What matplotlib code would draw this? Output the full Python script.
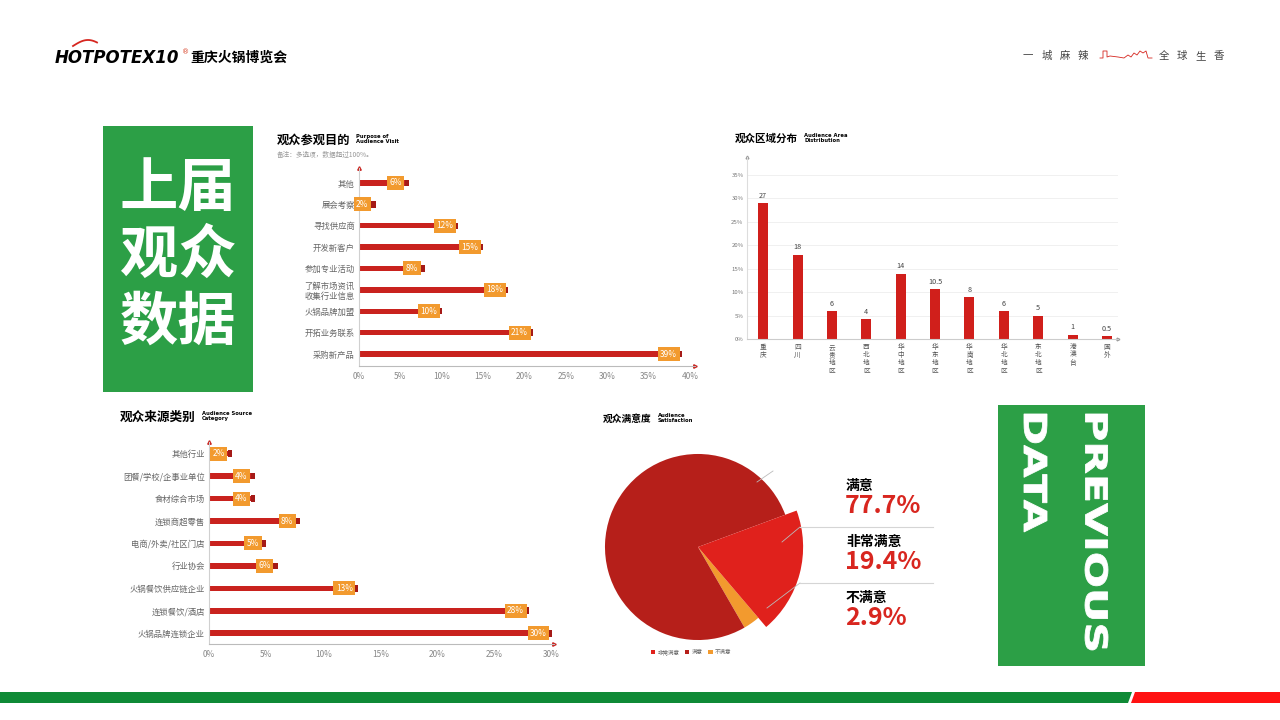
import matplotlib
matplotlib.use('Agg')
import matplotlib.pyplot as plt
import numpy as np
from matplotlib.font_manager import FontProperties
from matplotlib.patches import PathPatch, Polygon, Rectangle
from matplotlib.textpath import TextPath
from matplotlib.transforms import Affine2D

plt.rcParams['font.family'] = ['Noto Sans CJK SC', 'DejaVu Sans']
plt.rcParams['axes.unicode_minus'] = False

W, H = 1280, 720
RED = '#c9221e'
DARK_RED = '#a51a17'
BRIGHT_RED = '#e0211c'
PIE_RED = '#b61f1a'
ORANGE = '#f29a2e'
GREEN = '#2c9f46'
TICK_GRAY = '#777777'

# data
purpose_labels = ['采购新产品', '开拓业务联系', '火锅品牌加盟', '了解市场资讯\n收集行业信息',
                  '参加专业活动', '开发新客户', '寻找供应商', '展会考察', '其他']
purpose_pct = [39, 21, 10, 18, 8, 15, 12, 2, 6]

area_labels = ['重庆', '四川', '云贵地区', '西北地区', '华中地区', '华东地区',
               '华南地区', '华北地区', '东北地区', '港澳台', '国外']
area_pct = [29, 18, 6, 4.3, 14, 10.7, 9, 6, 5, 1, 0.6]
area_text = ['27', '18', '6', '4', '14', '10.5', '8', '6', '5', '1', '0.5']

source_labels = ['火锅品牌连锁企业', '连锁餐饮/酒店', '火锅餐饮供应链企业', '行业协会',
                 '电商/外卖/社区门店', '连锁商超零售', '食材综合市场', '团餐/学校/企事业单位', '其他行业']
source_pct = [30, 28, 13, 6, 5, 8, 4, 4, 2]

satisfaction_labels = ['不满意', '非常满意', '满意']
satisfaction_pct = [2.9, 19.4, 77.7]

fig = plt.figure(figsize=(12.8, 7.2), dpi=100)


def rect(x0, y0, x1, y1):
    # pixel box (y down) -> figure fraction
    return [x0 / W, 1 - y1 / H, (x1 - x0) / W, (y1 - y0) / H]


def pixel_axes(zorder):
    a = fig.add_axes([0, 0, 1, 1], zorder=zorder)
    a.set_xlim(0, W)
    a.set_ylim(H, 0)
    a.axis('off')
    a.patch.set_alpha(0)
    return a


def chart_title(ax, x, y, cn, en, size):
    ax.text(x, y, cn, fontsize=size, fontweight='bold', va='center', ha='left')
    w = len(cn) * size * 1.389 + 6
    ax.text(x + w, y - 1, en, fontsize=3.8, fontweight='bold', va='center', ha='left',
            family='DejaVu Sans', linespacing=0.95)


def vertical_word(ax, s, x0, y0, x1, y1):
    tp = TextPath((0, 0), s, size=100, prop=FontProperties(family='DejaVu Sans', weight='bold'))
    bb = tp.get_extents()
    sx = (x1 - x0) / bb.height
    sy = (y1 - y0) / bb.width
    tr = Affine2D(np.array([[0, sx, x0 - bb.y0 * sx], [sy, 0, y0 - bb.x0 * sy], [0, 0, 1]]))
    ax.add_patch(PathPatch(tr.transform_path(tp), fc='white', ec='white', lw=0.6, zorder=3))


def hbar_chart(box, labels, values, xlim, ylim, ticks, cap):
    ax = fig.add_axes(rect(*box))
    y = np.arange(len(values))
    vals = np.array(values, dtype=float)
    ax.barh(y, vals, height=0.25, color=RED, zorder=2)
    ax.barh(y, cap, left=vals - cap, height=0.3, color=DARK_RED, zorder=2)
    for yi, v in zip(y, values):
        ax.annotate(f'{v}%', (v, yi), xytext=(-9.5, 0), textcoords='offset points',
                    ha='center', va='center', fontsize=6, color='white', zorder=3,
                    bbox=dict(boxstyle='square,pad=0.3', fc=ORANGE, ec='none'))
    ax.set_xlim(*xlim)
    ax.set_ylim(*ylim)
    ax.set_yticks(y, labels, fontsize=6, color='#666666', linespacing=1.1)
    ax.set_xticks(ticks, [f'{t}%' for t in ticks], fontsize=6, color='#888888')
    ax.tick_params(length=0, pad=4)
    ax.tick_params(axis='y', pad=3)
    for s in ['top', 'right']:
        ax.spines[s].set_visible(False)
    ax.spines['left'].set_color('#d0d0d0')
    ax.spines['bottom'].set_color('#bbbbbb')
    ax.spines['left'].set_linewidth(0.8)
    ax.spines['bottom'].set_linewidth(0.8)
    ax.plot(0, 1, marker='^', ms=2.5, color=RED, transform=ax.transAxes, clip_on=False)
    ax.plot(1, 0, marker='>', ms=2.5, color=RED, transform=ax.transAxes, clip_on=False)
    ax.patch.set_alpha(0)
    return ax


bg = pixel_axes(0)

# header
bg.text(55, 58, 'HOTPOTEX10', fontsize=12, fontweight='bold', style='italic',
        family='DejaVu Sans', va='center', ha='left')
bg.text(182, 52, '®', fontsize=5, color='#d63a1f', va='center', ha='left', family='DejaVu Sans')
bg.text(190, 58, '重庆火锅博览会', fontsize=10, fontweight='heavy', va='center', ha='left')
sx = np.linspace(73, 97, 30)
bg.plot(sx, 46 - 6 * np.sin((sx - 73) / 24 * np.pi * 0.8), color='#d6261f', lw=1.3)

for i, ch in enumerate('一城麻辣'):
    bg.text(1028 + i * 18.3, 56, ch, fontsize=7.5, color='#444444', ha='center', va='center')
for i, ch in enumerate('全球生香'):
    bg.text(1164 + i * 18.3, 56, ch, fontsize=7.5, color='#444444', ha='center', va='center')
sky_x = [1100, 1103, 1103, 1107, 1107, 1110, 1118, 1124, 1128, 1131, 1134, 1137, 1140, 1143, 1146, 1148, 1152]
sky_y = [58, 58, 51, 51, 57, 56, 57, 58, 55, 57, 53, 55, 51, 53, 51, 58, 58]
bg.plot(sky_x, sky_y, color='#d6261f', lw=0.6)

# green panels
bg.add_patch(Rectangle((103, 126), 150, 266, fc=GREEN, ec='none'))
for j, line in enumerate(['上届', '观众', '数据']):
    bg.text(178, 189 + j * 67, line, fontsize=42, fontweight='heavy', color='white',
            ha='center', va='center')
bg.add_patch(Rectangle((998, 405), 147, 261, fc=GREEN, ec='none'))
vertical_word(bg, 'PREVIOUS', 1085, 414, 1108, 650)
vertical_word(bg, 'DATA', 1024, 414, 1047, 532)

# bottom band
bg.add_patch(Polygon([(0, 692), (1132, 692), (1128, 703), (0, 703)], closed=True, fc='#0f8a36', ec='none'))
bg.add_patch(Polygon([(1135, 692), (1280, 692), (1280, 703), (1131, 703)], closed=True, fc='#ff1212', ec='none'))

# chart titles
chart_title(bg, 277, 140, '观众参观目的', 'Purpose of\nAudience Visit', 8.8)
bg.text(277, 155, '备注：多选项，数据超过100%。', fontsize=4.8, color='#999999', va='center')
chart_title(bg, 735, 139, '观众区域分布', 'Audience Area\nDistribution', 7.6)
chart_title(bg, 120, 417, '观众来源类别', 'Audience Source\nCategory', 9.1)
chart_title(bg, 603, 419, '观众满意度', 'Audience\nSatisfaction', 7)

# purpose of visit
hbar_chart((359, 168, 695, 366), purpose_labels, purpose_pct, (0, 40.6), (-0.56, 8.7),
           range(0, 41, 5), 0.5)

# audience source
hbar_chart((209, 442, 554, 644), source_labels, source_pct, (0, 30.2), (-0.48, 8.52),
           range(0, 31, 5), 0.36)

# area distribution
ax2 = fig.add_axes(rect(747, 157, 1118, 339.3))
x = np.arange(len(area_pct))
ax2.bar(x, area_pct, width=0.29, color='#d01f1b', zorder=2)
for xi, v, t in zip(x, area_pct, area_text):
    ax2.annotate(t, (xi, v), xytext=(0, 2.5), textcoords='offset points', ha='center',
                 va='bottom', fontsize=5.2, color='#444444')
ax2.set_xlim(-0.47, 10.32)
ax2.set_ylim(0, 38.8)
ax2.set_yticks(range(0, 36, 5), [f'{t}%' for t in range(0, 36, 5)], fontsize=4.3, color=TICK_GRAY)
ax2.set_xticks(x, ['\n'.join(l) for l in area_labels], fontsize=4.8, color='#555555',
               linespacing=1.02, va='top')
ax2.tick_params(length=0, pad=2.5)
ax2.grid(axis='y', color='#eeeeee', lw=0.6, zorder=0)
for s in ['top', 'right']:
    ax2.spines[s].set_visible(False)
ax2.spines['left'].set_color('#dddddd')
ax2.spines['bottom'].set_color('#cccccc')
ax2.plot(0, 1, marker='^', ms=2, color='#999999', transform=ax2.transAxes, clip_on=False)
ax2.plot(1, 0, marker='>', ms=2, color='#999999', transform=ax2.transAxes, clip_on=False)
ax2.patch.set_alpha(0)

# satisfaction pie
ax4 = fig.add_axes(rect(598, 447, 798, 647))
wedges, _ = ax4.pie(satisfaction_pct, colors=[ORANGE, BRIGHT_RED, PIE_RED], startangle=-60,
                    counterclock=True, radius=1, wedgeprops=dict(ec='none'))
wedges[1].set_radius(1.13)
wedges[1].set_zorder(3)
ax4.set_xlim(-1.075, 1.075)
ax4.set_ylim(-1.075, 1.075)
ax4.set_aspect('equal')
ax4.axis('off')
leg_order = [1, 2, 0]
fig.legend([wedges[i] for i in leg_order], [satisfaction_labels[i] for i in leg_order],
           loc='center', bbox_to_anchor=(691 / W, 1 - 652 / H), ncol=3, fontsize=4,
           frameon=False, handlelength=0.8, handleheight=0.8, handletextpad=0.4,
           columnspacing=1.0, labelcolor='#666666')

ov = pixel_axes(10)
for (xa, ya), (xb, yb) in [((757, 482), (773, 471)), ((782, 542), (800, 527)), ((767, 608), (800, 583))]:
    ov.plot([xa, xb], [ya, yb], color='#bbbbbb', lw=0.6)
ov.plot([800, 933], [527, 527], color='#d5d5d5', lw=0.8)
ov.plot([800, 933], [583, 583], color='#d5d5d5', lw=0.8)
for (name_i, ty) in [(2, 486), (1, 542), (0, 598)]:
    ov.text(846, ty, satisfaction_labels[name_i], fontsize=10, fontweight='bold', va='center', ha='left')
    ov.text(845, ty + 20, f'{satisfaction_pct[name_i]}%', fontsize=18, fontweight='heavy',
            color='#d8261f', va='center', ha='left')

fig.savefig('out.png', dpi=100)
